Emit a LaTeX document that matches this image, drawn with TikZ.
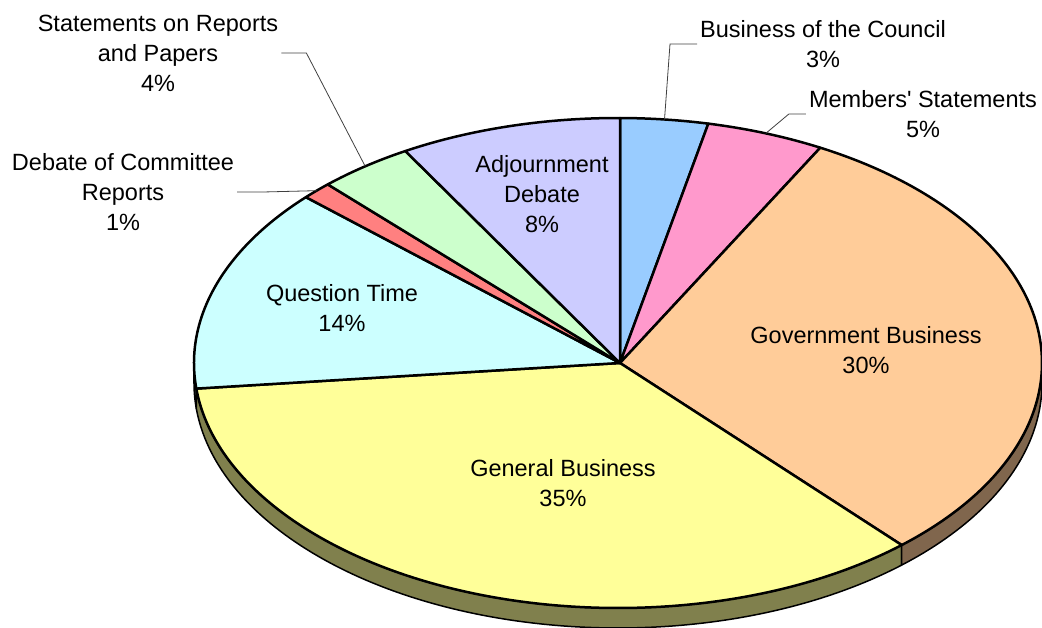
\documentclass[tikz,border=0pt]{standalone}
\usepackage{fontspec}
\setmainfont{Liberation Sans}[Ligatures=TeXOff]
\definecolor{councilcol}{HTML}{99CCFF}
\definecolor{memberscol}{HTML}{FF99CC}
\definecolor{govcol}{HTML}{FFCC99}
\definecolor{govside}{HTML}{80664D}
\definecolor{gencol}{HTML}{FFFF99}
\definecolor{genside}{HTML}{80804D}
\definecolor{questcol}{HTML}{CCFFFF}
\definecolor{questside}{HTML}{668080}
\definecolor{debcol}{HTML}{FF8080}
\definecolor{statcol}{HTML}{CCFFCC}
\definecolor{adjcol}{HTML}{CCCCFF}
\begin{document}
\begin{tikzpicture}[
    x=1pt, y=1pt,
    slice/.style={draw=black, line width=2.5pt, line join=round},
    side/.style={draw=black, line width=1.5pt, line join=round},
    lbl/.style={align=center, inner sep=0pt, font=\fontsize{23.5}{30}\selectfont},
    outlbl/.style={lbl, inner sep=3pt},
    leader/.style={draw=black!75, line width=0.8pt},
    pie/.style={x radius=424pt, y radius=245pt}
]
\useasboundingbox (-618,-265) rectangle (424,363);
\coordinate (apex) at (2,0);
% Seitenflaechen (Tiefe)
\filldraw[side, fill=questside] (180:424pt and 245pt) arc[pie, start angle=180, end angle=186] -- ++(0,-20) arc[pie, start angle=186, end angle=180] -- cycle;
\filldraw[side, fill=genside] (186:424pt and 245pt) arc[pie, start angle=186, end angle=312] -- ++(0,-20) arc[pie, start angle=312, end angle=186] -- cycle;
\filldraw[side, fill=govside] (312:424pt and 245pt) arc[pie, start angle=312, end angle=360] -- ++(0,-20) arc[pie, start angle=360, end angle=312] -- cycle;
% Tortenstuecke (Oberseite)
\filldraw[slice, fill=councilcol] (apex) -- (89.7:424pt and 245pt) arc[pie, start angle=89.7, end angle=77.7] -- cycle;
\filldraw[slice, fill=memberscol] (apex) -- (77.7:424pt and 245pt) arc[pie, start angle=77.7, end angle=61.5] -- cycle;
\filldraw[slice, fill=govcol] (apex) -- (61.5:424pt and 245pt) arc[pie, start angle=61.5, end angle=-48] -- cycle;
\filldraw[slice, fill=gencol] (apex) -- (312:424pt and 245pt) arc[pie, start angle=312, end angle=186] -- cycle;
\filldraw[slice, fill=questcol] (apex) -- (186:424pt and 245pt) arc[pie, start angle=186, end angle=137.4] -- cycle;
\filldraw[slice, fill=debcol] (apex) -- (137.4:424pt and 245pt) arc[pie, start angle=137.4, end angle=133.2] -- cycle;
\filldraw[slice, fill=statcol] (apex) -- (133.2:424pt and 245pt) arc[pie, start angle=133.2, end angle=120.1] -- cycle;
\filldraw[slice, fill=adjcol] (apex) -- (120.1:424pt and 245pt) arc[pie, start angle=120.1, end angle=89.7] -- cycle;
% Beschriftungen im Kreis
\node[lbl] (adjlbl) at (-76,169) {Adjournment\\Debate\\8\%};
\node[lbl] (questlbl) at (-276,54.5) {Question Time\\14\%};
\node[lbl] (govlbl) at (248,12.5) {Government Business\\30\%};
\node[lbl] (genlbl) at (-55,-120) {General Business\\35\%};
% Beschriftungen aussen mit Fuehrungslinien
\node[outlbl] (councillbl) at (205,319) {Business of the Council\\3\%};
\node[outlbl] (memberslbl) at (305,249) {Members' Statements\\5\%};
\node[outlbl] (statlbl) at (-460,310) {Statements on Reports\\and Papers\\4\%};
\node[outlbl] (deblbl) at (-495,171) {Debate of Committee\\Reports\\1\%};
\coordinate (counciltip) at (83.7:424pt and 245pt);
\coordinate (memberstip) at (69.6:424pt and 245pt);
\coordinate (stattip) at (126.6:424pt and 245pt);
\coordinate (debtip) at (135.3:424pt and 245pt);
\draw[leader] (councillbl.west) -- ++(-27,0) -- (counciltip);
\draw[leader] (memberslbl.west) -- ++(-17,0) -- (memberstip);
\draw[leader] (statlbl.east) -- ++(25,0) -- (stattip);
\draw[leader] (deblbl.east) -- ++(26,0) -- (debtip);
\end{tikzpicture}
\end{document}
